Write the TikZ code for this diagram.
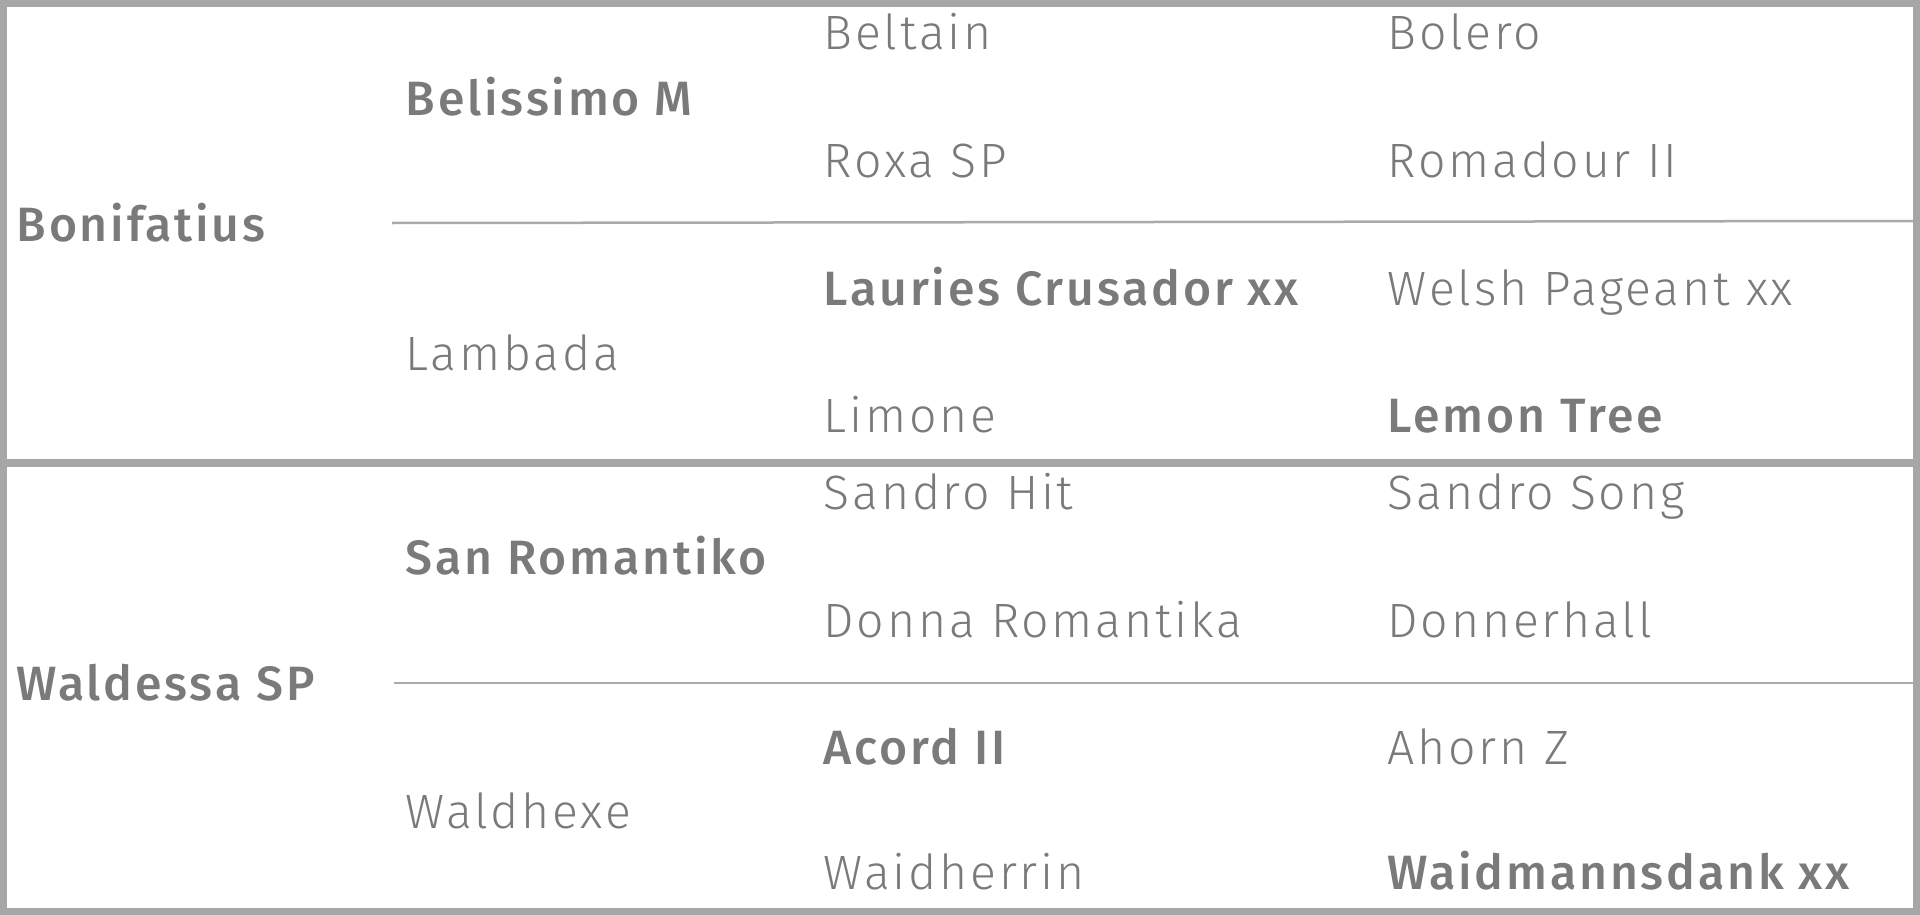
\documentclass[tikz,border=0pt]{standalone}
\usepackage{fontspec}
\setmainfont{Fira Sans Light}[BoldFont={Fira Sans Medium}, LetterSpace=5.8]
\usetikzlibrary{positioning}
\definecolor{framegrey}{RGB}{166, 166, 166}
\definecolor{rulegrey}{RGB}{170, 170, 170}
\definecolor{textgrey}{RGB}{122, 122, 122}

\begin{document}
\begin{tikzpicture}[x=0.01cm, y=-0.01cm,
    horse/.style={anchor=base west, inner sep=0pt, text=textgrey, font=\fontsize{13.7}{16}\selectfont},
    horsebold/.style={horse, font=\fontsize{13.7}{16}\selectfont\bfseries}]
  \useasboundingbox (0, 0) rectangle (1920, 915);

  % Frame and separators
  \draw[framegrey, line width=0.07cm] (3.5, 3.5) rectangle (1916.5, 911.5);
  \coordinate (midL) at (0, 463);
  \coordinate (midR) at (1920, 463);
  \draw[framegrey, line width=0.08cm] (midL) -- (midR);

  % Bonifatius
  \node[horsebold] (bonifatius) at (16, 241) {Bonifatius};
  \node[horsebold] (belissimo) at (405, 115) {Belissimo M};
  \node[horse] (lambada) at (405, 370) {Lambada};
  \node[horse] (beltain) at (823, 50) {Beltain};
  \node[horse] (roxa) at (823, 177) {Roxa SP};
  \node[horsebold] (lauries) at (823, 305) {Lauries Crusador xx};
  \node[horse] (limone) at (823, 432) {Limone};
  \node[horse] (bolero) at (1387, 50) {Bolero};
  \node[horse] (romadour) at (1387, 177) {Romadour II};
  \node[horse] (welsh) at (1387, 305) {Welsh Pageant xx};
  \node[horsebold] (lemon) at (1387, 432) {Lemon Tree};

  % Waldessa SP
  \node[horsebold] (waldessa) at (16, 700) {Waldessa SP};
  \node[horsebold] (sanromantiko) at (405, 574) {San Romantiko};
  \node[horse] (waldhexe) at (405, 828) {Waldhexe};
  \node[horse] (sandrohit) at (823, 509) {Sandro Hit};
  \node[horse] (donna) at (823, 637) {Donna Romantika};
  \node[horsebold] (acord) at (823, 764) {Acord II};
  \node[horse] (waidherrin) at (823, 889) {Waidherrin};
  \node[horse] (sandrosong) at (1387, 509) {Sandro Song};
  \node[horse] (donnerhall) at (1387, 637) {Donnerhall};
  \node[horse] (ahorn) at (1387, 764) {Ahorn Z};
  \node[horsebold] (waidmann) at (1387, 889) {Waidmannsdank xx};

  % Sire / dam rules
  \coordinate (ruleA) at (392, 223);
  \coordinate (ruleB) at (1913, 221);
  \draw[rulegrey, line width=0.025cm] (ruleA) -- (ruleB);
  \coordinate (ruleC) at (394, 683);
  \coordinate (ruleD) at (1913, 683);
  \draw[rulegrey, line width=0.025cm] (ruleC) -- (ruleD);
\end{tikzpicture}
\end{document}
